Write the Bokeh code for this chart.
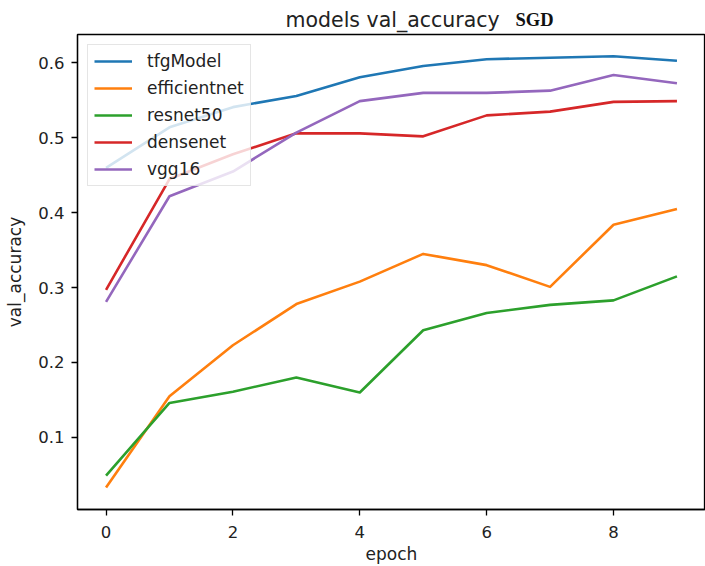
from bokeh.plotting import figure
from bokeh.layouts import column
from bokeh.models import Range1d, FixedTicker, Label, Legend, LegendItem
from bokeh.embed import file_html
from bokeh.resources import INLINE

epochs = [0, 1, 2, 3, 4, 5, 6, 7, 8, 9]
tfgModel = [0.460, 0.514, 0.541, 0.556, 0.581, 0.596, 0.605, 0.607, 0.609, 0.603]
efficientnet = [0.033, 0.155, 0.223, 0.278, 0.308, 0.345, 0.330, 0.301, 0.384, 0.405]
resnet50 = [0.049, 0.146, 0.161, 0.180, 0.160, 0.243, 0.266, 0.277, 0.283, 0.315]
densenet = [0.297, 0.445, 0.478, 0.506, 0.506, 0.502, 0.530, 0.535, 0.548, 0.549]
vgg16 = [0.281, 0.422, 0.455, 0.507, 0.549, 0.560, 0.560, 0.563, 0.584, 0.573]

series_names = ["tfgModel", "efficientnet", "resnet50", "densenet", "vgg16"]
series_values = [tfgModel, efficientnet, resnet50, densenet, vgg16]
colors = ["#1f77b4", "#ff7f0e", "#2ca02c", "#d62728", "#9467bd"]

x_ticks = [0, 2, 4, 6, 8]
y_ticks = [0.1, 0.2, 0.3, 0.4, 0.5, 0.6]

title_text = "models val_accuracy"
title_suffix = "SGD"
x_label = "epoch"
y_label = "val_accuracy"

X_START, X_END = -0.45, 9.45
Y_START, Y_END = 0.0037, 0.638

W, H = 705, 566
TITLE_H = 33
BL, BR, BT, BB = 77, 0, 1, 56

FONT = "DejaVu Sans"

xr = Range1d(X_START, X_END)
frame_w = W - BL - BR
px_x = frame_w / (X_END - X_START)

# ---- title strip (separate figure so the two-font title is not clipped)
tp = figure(width=W, height=TITLE_H, output_backend="svg", toolbar_location=None,
            x_range=xr, y_range=Range1d(0, TITLE_H), title=None,
            x_axis_location=None, y_axis_location=None,
            min_border_left=BL, min_border_right=BR,
            min_border_top=0, min_border_bottom=0)
tp.grid.visible = False
tp.outline_line_color = None
tp.background_fill_color = "white"
tp.border_fill_color = "white"
TITLE_Y = TITLE_H - 19
t1 = Label(x=X_START + (285 - BL) / px_x, y=TITLE_Y, text=title_text,
           text_font=FONT, text_font_size="20.5px", text_color="#222222",
           text_align="left", text_baseline="alphabetic")
t2 = Label(x=X_START + (515 - BL) / px_x, y=TITLE_Y, text=title_suffix,
           text_font="Liberation Serif", text_font_size="18.5px",
           text_font_style="bold", text_color="#111111",
           text_align="left", text_baseline="alphabetic")
tp.add_layout(t1)
tp.add_layout(t2)

# ---- main chart
p = figure(width=W, height=H - TITLE_H, output_backend="svg", toolbar_location=None,
           x_range=xr, y_range=Range1d(Y_START, Y_END),
           min_border_left=BL, min_border_right=BR, min_border_top=BT,
           min_border_bottom=BB)

p.background_fill_color = "white"
p.border_fill_color = "white"
p.outline_line_color = "black"
p.outline_line_width = 1.3
p.grid.visible = False

for ax in (p.xaxis[0], p.yaxis[0]):
    ax.axis_line_color = "black"
    ax.axis_line_width = 1.3
    ax.major_tick_line_color = "black"
    ax.major_tick_line_width = 1.3
    ax.major_tick_out = 6
    ax.major_tick_in = 0
    ax.minor_tick_line_color = None
    ax.major_label_text_font = FONT
    ax.major_label_text_font_size = "16.5px"
    ax.major_label_text_color = "#222222"
    ax.axis_label_text_font = FONT
    ax.axis_label_text_font_size = "17px"
    ax.axis_label_text_font_style = "normal"
    ax.axis_label_text_color = "#222222"

p.xaxis.ticker = FixedTicker(ticks=x_ticks)
p.yaxis.ticker = FixedTicker(ticks=y_ticks)
p.xaxis.axis_label = x_label
p.yaxis.axis_label = y_label
p.xaxis.major_label_standoff = 10
p.yaxis.major_label_standoff = 7
p.xaxis.axis_label_standoff = 3
p.yaxis.axis_label_standoff = 10

items = []
for name, vals, c in zip(series_names, series_values, colors):
    r = p.line(epochs, vals, line_color=c, line_width=2.6, line_join="round")
    items.append(LegendItem(label=name, renderers=[r]))

legend = Legend(items=items, location="top_left")
legend.margin = 10
legend.padding = 6
legend.spacing = 7
legend.glyph_width = 38
legend.glyph_height = 20
legend.label_height = 20
legend.label_standoff = 15
legend.label_text_font = FONT
legend.label_text_font_size = "17px"
legend.label_text_color = "#222222"
legend.border_line_color = "#cccccc"
legend.border_line_width = 1
legend.background_fill_color = "white"
legend.background_fill_alpha = 0.8
p.add_layout(legend, "center")

layout = column(tp, p, spacing=0)
open("out.html", "w").write(file_html(layout, INLINE))
